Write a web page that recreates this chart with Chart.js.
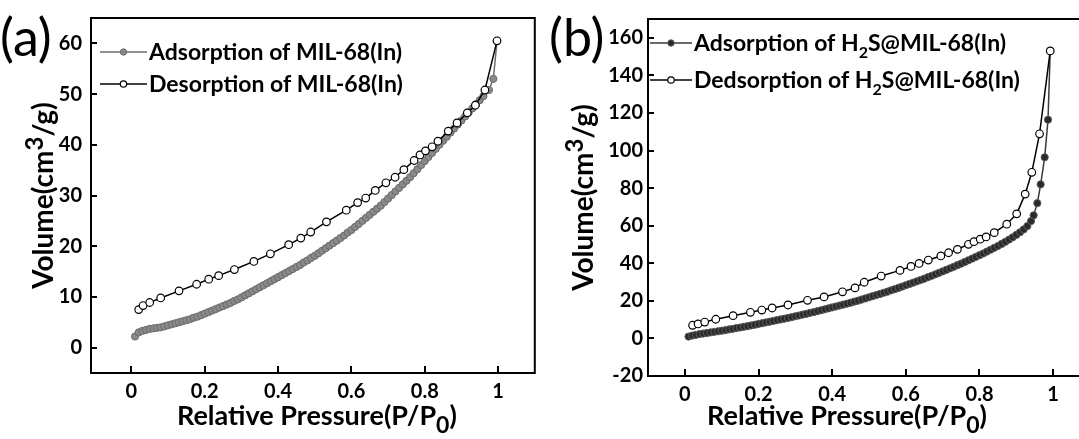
<!DOCTYPE html>
<html>
<head>
<meta charset="utf-8">
<script src="https://cdn.jsdelivr.net/npm/chart.js@4.4.1/dist/chart.umd.min.js"></script>
<style>
  html, body { margin: 0; padding: 0; background: #fff; overflow: hidden; }
  body { width: 1079px; height: 439px; position: relative; }
  canvas { position: absolute; top: 0; }
  #chartA { left: 0; }
  #chartB { left: 540px; }
</style>
</head>
<body>
<canvas id="chartA" width="540" height="439"></canvas>
<canvas id="chartB" width="560" height="439"></canvas>
<script>
// (a) MIL-68(In) isotherm
const adsAX = [
  0.01, 0.02, 0.03, 0.04, 0.05, 0.06, 0.07, 0.08, 0.09, 0.10,
  0.11, 0.12, 0.13, 0.14, 0.15, 0.16, 0.17, 0.18, 0.19, 0.20,
  0.21, 0.22, 0.23, 0.24, 0.25, 0.26, 0.27, 0.28, 0.29, 0.30,
  0.31, 0.32, 0.33, 0.34, 0.35, 0.36, 0.37, 0.38, 0.39, 0.40,
  0.41, 0.42, 0.43, 0.44, 0.45, 0.46, 0.47, 0.48, 0.49, 0.50,
  0.51, 0.52, 0.53, 0.54, 0.55, 0.56, 0.57, 0.58, 0.59, 0.60,
  0.61, 0.62, 0.63, 0.64, 0.65, 0.66, 0.67, 0.68, 0.69, 0.70,
  0.71, 0.72, 0.73, 0.74, 0.75, 0.76, 0.77, 0.78, 0.79, 0.80,
  0.81, 0.82, 0.83, 0.84, 0.85, 0.86, 0.87, 0.88, 0.89, 0.90,
  0.91, 0.92, 0.93, 0.94, 0.95, 0.96, 0.975, 0.987, 0.997
];
const adsAY = [
  2.2, 3.0, 3.3, 3.5, 3.7, 3.8, 3.9, 4.0, 4.2, 4.4,
  4.6, 4.8, 5.0, 5.2, 5.4, 5.6, 5.9, 6.1, 6.4, 6.7,
  7.0, 7.3, 7.6, 7.9, 8.2, 8.5, 8.8, 9.2, 9.5, 9.9,
  10.3, 10.7, 11.1, 11.5, 11.9, 12.3, 12.7, 13.1, 13.5, 13.9,
  14.3, 14.7, 15.1, 15.5, 15.9, 16.3, 16.8, 17.2, 17.7, 18.1,
  18.6, 19.1, 19.6, 20.1, 20.6, 21.1, 21.6, 22.1, 22.7, 23.2,
  23.8, 24.4, 25.0, 25.6, 26.2, 26.8, 27.4, 28.0, 28.7, 29.4,
  30.1, 30.8, 31.5, 32.2, 32.9, 33.6, 34.4, 35.2, 36.0, 36.8,
  37.6, 38.4, 39.2, 40.0, 40.8, 41.6, 42.4, 43.2, 44.0, 44.8,
  45.6, 46.4, 47.2, 48.0, 48.8, 49.6, 50.8, 53.0, 60.5
];
const desAX = [
  0.020, 0.032, 0.050, 0.080, 0.130, 0.178, 0.211, 0.238, 0.281, 0.334,
  0.379, 0.429, 0.462, 0.489, 0.532, 0.586, 0.617, 0.639, 0.665, 0.694,
  0.719, 0.743, 0.771, 0.787, 0.802, 0.820, 0.836, 0.864, 0.888, 0.916,
  0.938, 0.964, 0.997
];
const desAY = [
  7.5, 8.3, 8.9, 9.8, 11.2, 12.5, 13.5, 14.2, 15.4, 17.0,
  18.5, 20.3, 21.6, 22.8, 24.8, 27.1, 28.6, 29.5, 31.0, 32.5,
  33.6, 35.1, 36.9, 38.0, 38.8, 39.6, 40.7, 42.7, 44.3, 46.3,
  47.8, 50.8, 60.5
];

// (b) H2S@MIL-68(In) isotherm
const adsBX = [
  0.01, 0.02, 0.03, 0.04, 0.05, 0.06, 0.07, 0.08, 0.09, 0.10,
  0.11, 0.12, 0.13, 0.14, 0.15, 0.16, 0.17, 0.18, 0.19, 0.20,
  0.21, 0.22, 0.23, 0.24, 0.25, 0.26, 0.27, 0.28, 0.29, 0.30,
  0.31, 0.32, 0.33, 0.34, 0.35, 0.36, 0.37, 0.38, 0.39, 0.40,
  0.41, 0.42, 0.43, 0.44, 0.45, 0.46, 0.47, 0.48, 0.49, 0.50,
  0.51, 0.52, 0.53, 0.54, 0.55, 0.56, 0.57, 0.58, 0.59, 0.60,
  0.61, 0.62, 0.63, 0.64, 0.65, 0.66, 0.67, 0.68, 0.69, 0.70,
  0.71, 0.72, 0.73, 0.74, 0.75, 0.76, 0.77, 0.78, 0.79, 0.80,
  0.81, 0.82, 0.83, 0.84, 0.85, 0.86, 0.87, 0.88, 0.89, 0.90,
  0.91, 0.92, 0.93, 0.94, 0.947, 0.957, 0.966, 0.977, 0.986, 0.992
];
const adsBY = [
  1.0, 1.5, 1.9, 2.3, 2.6, 2.9, 3.2, 3.5, 3.8, 4.1,
  4.4, 4.8, 5.1, 5.5, 5.8, 6.2, 6.5, 6.9, 7.3, 7.7,
  8.1, 8.5, 8.9, 9.3, 9.7, 10.1, 10.5, 10.9, 11.3, 11.8,
  12.2, 12.7, 13.1, 13.6, 14.0, 14.5, 15.0, 15.5, 16.0, 16.5,
  17.0, 17.5, 18.0, 18.5, 19.0, 19.6, 20.1, 20.7, 21.3, 21.9,
  22.5, 23.1, 23.7, 24.3, 24.9, 25.6, 26.2, 26.9, 27.6, 28.3,
  29.0, 29.7, 30.4, 31.1, 31.8, 32.6, 33.3, 34.1, 34.9, 35.7,
  36.5, 37.3, 38.1, 39.0, 39.8, 40.7, 41.6, 42.5, 43.4, 44.3,
  45.2, 46.2, 47.2, 48.2, 49.2, 50.3, 51.4, 52.6, 53.8, 55.1,
  56.5, 58.0, 59.8, 62.5, 65.5, 72.0, 82.0, 96.4, 116.4, 153.0
];
const desBX = [
  0.021, 0.036, 0.054, 0.084, 0.131, 0.178, 0.209, 0.237, 0.280, 0.333,
  0.378, 0.428, 0.462, 0.487, 0.533, 0.584, 0.614, 0.636, 0.661, 0.695,
  0.716, 0.740, 0.770, 0.785, 0.802, 0.818, 0.840, 0.874, 0.901, 0.924,
  0.942, 0.963, 0.992
];
const desBY = [
  7.0, 7.7, 8.7, 10.2, 12.1, 13.9, 15.1, 16.2, 17.8, 20.3,
  22.1, 24.8, 26.9, 29.9, 33.2, 36.2, 38.3, 39.9, 41.7, 43.9,
  45.6, 47.4, 50.1, 51.5, 52.8, 54.0, 56.3, 60.8, 66.3, 76.8,
  88.4, 108.9, 153.0
];

const xTicks = [0, 0.2, 0.4, 0.6, 0.8, 1];
const yTicksA = [0, 10, 20, 30, 40, 50, 60];
const yTicksB = [-20, 0, 20, 40, 60, 80, 100, 120, 140, 160];
// "_x" = subscript, "^x" = superscript
const legendA = ["Adsorption of MIL-68(In)", "Desorption of MIL-68(In)"];
const legendB = ["Adsorption of H_2S@MIL-68(In)", "Dedsorption of H_2S@MIL-68(In)"];
const xTitle = "Relative Pressure(P/P_0)";
const yTitle = "Volume(cm^3/g)";

const FONT = "Lato, 'Open Sans', sans-serif";

function pts(xs, ys) {
  return xs.map((x, i) => ({ x: x, y: ys[i] }));
}

function richParts(text) {
  const parts = [];
  let buf = "";
  for (let i = 0; i < text.length; i++) {
    const c = text[i];
    if ((c === "_" || c === "^") && i + 1 < text.length) {
      if (buf) parts.push({ t: buf, k: "" });
      buf = "";
      parts.push({ t: text[i + 1], k: c });
      i++;
    } else {
      buf += c;
    }
  }
  if (buf) parts.push({ t: buf, k: "" });
  return parts;
}

// draws text with sub/superscripts, y is the baseline
function drawRich(ctx, text, x, y, size, weight, align, subScale) {
  const parts = richParts(text);
  const fontFor = p => `${weight} ${p.k ? Math.round(size * (subScale || 0.78)) : size}px ${FONT}`;
  let total = 0;
  parts.forEach(p => {
    ctx.font = fontFor(p);
    p.w = ctx.measureText(p.t).width;
    total += p.w;
  });
  let cx = align === "center" ? x - total / 2 : x;
  ctx.textAlign = "left";
  ctx.textBaseline = "alphabetic";
  parts.forEach(p => {
    ctx.font = fontFor(p);
    const dy = p.k === "_" ? size * 0.3 : p.k === "^" ? -size * 0.36 : 0;
    ctx.fillText(p.t, cx, y + dy);
    cx += p.w;
  });
}

const framePlugin = {
  id: "frame",
  afterDraw(chart, args, o) {
    const { ctx, chartArea: a, scales: { x, y } } = chart;
    ctx.save();
    ctx.strokeStyle = "#000";
    ctx.lineWidth = 2;
    ctx.strokeRect(a.left, a.top, a.right - a.left, a.bottom - a.top);
    // inward tick marks
    ctx.beginPath();
    x.ticks.forEach(t => {
      const px = Math.round(x.getPixelForValue(t.value));
      ctx.moveTo(px, a.bottom);
      ctx.lineTo(px, a.bottom - 7);
    });
    y.ticks.forEach(t => {
      const py = Math.round(y.getPixelForValue(t.value));
      ctx.moveTo(a.left, py);
      ctx.lineTo(a.left + 6, py);
    });
    ctx.stroke();

    ctx.fillStyle = "#000";
    // panel letter
    ctx.font = `400 52px ${FONT}`;
    ctx.textAlign = "left";
    ctx.textBaseline = "alphabetic";
    ctx.fillText(o.letter, o.letterX, 56);

    // axis titles
    drawRich(ctx, xTitle, (a.left + a.right) / 2 + o.xTitleShift, 425, 27, 700, "center", 0.85);
    ctx.save();
    ctx.translate(o.yTitleX, (a.top + a.bottom) / 2);
    ctx.rotate(-Math.PI / 2);
    drawRich(ctx, yTitle, 0, 0, 28, 700, "center", 0.85);
    ctx.restore();

    // legend: line with marker, then label
    o.legend.forEach((label, i) => {
      const ds = chart.data.datasets[i];
      const cy = o.legendY[i];
      ctx.strokeStyle = ds.borderColor;
      ctx.lineWidth = ds.borderWidth;
      ctx.beginPath();
      ctx.moveTo(o.legendX0, cy);
      ctx.lineTo(o.legendX1, cy);
      ctx.stroke();
      ctx.beginPath();
      ctx.arc((o.legendX0 + o.legendX1) / 2, cy, 3.2, 0, Math.PI * 2);
      ctx.fillStyle = ds.pointBackgroundColor;
      ctx.fill();
      ctx.strokeStyle = ds.pointBorderColor;
      ctx.lineWidth = ds.pointBorderWidth;
      ctx.stroke();
      ctx.fillStyle = "#000";
      drawRich(ctx, label, o.legendX1 + 2, cy + 8, 23, 700, "left", 0.7);
    });
    ctx.restore();
  }
};

function makePanel(id, p) {
  const tickFont = { family: FONT, size: 20, weight: "bold" };
  new Chart(document.getElementById(id), {
    type: "scatter",
    data: {
      datasets: [
        {
          label: p.legend[0],
          data: pts(p.adsX, p.adsY),
          showLine: true,
          borderColor: p.adsLine,
          borderWidth: 1.5,
          pointRadius: 3.6,
          pointBackgroundColor: p.adsFill,
          pointBorderColor: p.adsEdge,
          pointBorderWidth: 1,
          order: 2
        },
        {
          label: p.legend[1],
          data: pts(p.desX, p.desY),
          showLine: true,
          borderColor: "#000",
          borderWidth: 1.5,
          pointRadius: 3.8,
          pointBackgroundColor: "#fff",
          pointBorderColor: "#000",
          pointBorderWidth: 1.2,
          order: 1
        }
      ]
    },
    options: {
      responsive: false,
      animation: false,
      devicePixelRatio: 1,
      events: [],
      layout: { padding: { top: p.top, right: p.right, left: 0, bottom: 0 } },
      plugins: {
        legend: { display: false },
        tooltip: { enabled: false },
        frame: p.frame
      },
      scales: {
        x: {
          type: "linear",
          min: p.xMin,
          max: p.xMax,
          afterBuildTicks: s => { s.ticks = xTicks.map(v => ({ value: v })); },
          afterFit: s => { s.height = p.xHeight; s.paddingLeft = 0; s.paddingRight = 0; },
          grid: { display: false, drawTicks: false },
          border: { display: false },
          ticks: { font: tickFont, color: "#000", padding: 7, autoSkip: false, maxRotation: 0, callback: v => String(v) }
        },
        y: {
          type: "linear",
          min: p.yMin,
          max: p.yMax,
          afterBuildTicks: s => { s.ticks = p.yTicks.map(v => ({ value: v })); },
          afterFit: s => { s.width = p.yWidth; s.paddingTop = 0; s.paddingBottom = 0; },
          grid: { display: false, drawTicks: false },
          border: { display: false },
          ticks: { font: tickFont, color: "#000", padding: p.yPad, autoSkip: false, callback: v => String(v) }
        }
      }
    },
    plugins: [framePlugin]
  });
}

makePanel("chartA", {
  adsX: adsAX, adsY: adsAY, desX: desAX, desY: desAY,
  adsLine: "#6e6e6e", adsFill: "#8a8a8a", adsEdge: "#6a6a6a",
  legend: legendA,
  xMin: -0.11, xMax: 1.1, yMin: -5, yMax: 65, yTicks: yTicksA,
  top: 18, right: 4, yWidth: 91, xHeight: 66, yPad: 9,
  frame: {
    letter: "(a)", letterX: 0, xTitleShift: 4, yTitleX: 53,
    legend: legendA, legendY: [52, 84], legendX0: 100, legendX1: 147
  }
});

makePanel("chartB", {
  adsX: adsBX, adsY: adsBY, desX: desBX, desY: desBY,
  adsLine: "#3a3a3a", adsFill: "#2a2a2a", adsEdge: "#5a5a5a",
  legend: legendB,
  xMin: -0.1, xMax: 1.1, yMin: -20, yMax: 170, yTicks: yTicksB,
  top: 19, right: 10, yWidth: 108, xHeight: 63, yPad: 5,
  frame: {
    letter: "(b)", letterX: 9, xTitleShift: -22, yTitleX: 53,
    legend: legendB, legendY: [43, 80], legendX0: 110, legendX1: 152
  }
});
</script>
</body>
</html>
